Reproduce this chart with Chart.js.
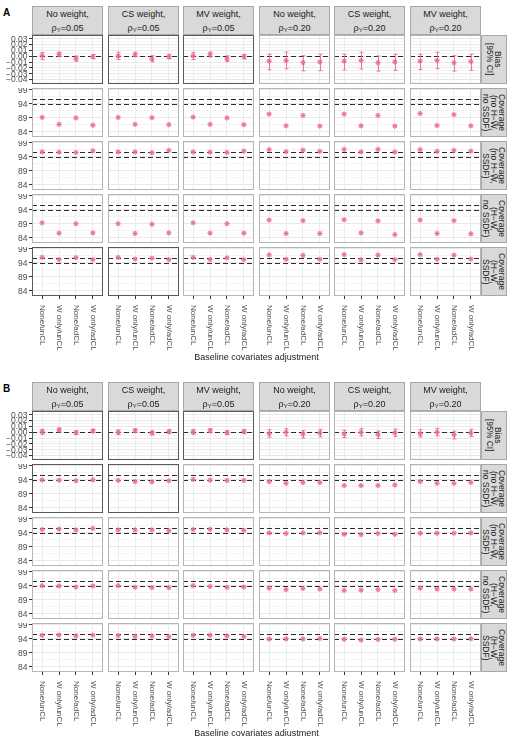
<!DOCTYPE html>
<html>
<head>
<meta charset="utf-8">
<script src="https://cdn.jsdelivr.net/npm/chart.js@4.4.1/dist/chart.umd.min.js"></script>
<style>
body { margin: 0; background: #fff; width: 513px; height: 736px; overflow: hidden; position: relative;
       font-family: "Liberation Sans", Arial, sans-serif; }
canvas { position: absolute; }
.hdr { position: absolute; background: #d9d9d9; border: 1px solid #a8a8a8; box-sizing: border-box;
       text-align: center; font-size: 9px; line-height: 14px; padding-top: 0px; color: #1a1a1a; }
.hdr sub { font-size: 6px; vertical-align: -1px; }
.rstrip { position: absolute; background: #d9d9d9; border: 1px solid #a8a8a8; box-sizing: border-box;
          writing-mode: vertical-rl; display: flex; align-items: center; justify-content: center;
          text-align: center; font-size: 8.5px; line-height: 8px; color: #1a1a1a; }
.tag { position: absolute; left: 3px; font-weight: bold; font-size: 10px; }
.xtitle { position: absolute; left: 32px; width: 449px; text-align: center; font-size: 9px; color: #1a1a1a; }
</style>
</head>
<body>
<script>
'use strict';

// categories and facet labels
const categories = ['None/unCL', 'W only/unCL', 'None/adCL', 'W only/adCL'];
const weightLabels = ['No weight,', 'CS weight,', 'MV weight,', 'No weight,', 'CS weight,', 'MV weight,'];
const rhoLabels = ['0.05', '0.05', '0.05', '0.20', '0.20', '0.20'];
const rowLabels = [
    ['Bias', '[95% CI]'],
    ['Coverage', '(no H\u2212W,', 'no SSDF)'],
    ['Coverage', '(no H\u2212W,', 'SSDF)'],
    ['Coverage', '(H\u2212W,', 'no SSDF)'],
    ['Coverage', '(H\u2212W,', 'SSDF)'],
];
const biasTicks = [-0.04, -0.03, -0.02, -0.01, 0, 0.01, 0.02, 0.03];
const coverageTicks = [84, 89, 94, 99];
const biasRef = [0];
const coverageBounds = [94.05, 95.95];

// ---- Part A ----
const biasEstA = [
    [0.0010, 0.0035, -0.0042, -0.0007],
    [0.0005, 0.0028, -0.0047, -0.0007],
    [0.0008, 0.0033, -0.0045, -0.0007],
    [-0.0084, -0.0072, -0.0108, -0.0097],
    [-0.0084, -0.0072, -0.0110, -0.0097],
    [-0.0084, -0.0072, -0.0110, -0.0090],
];
const biasLoA = [
    [-0.0053, -0.0007, -0.0084, -0.0042],
    [-0.0053, -0.0007, -0.0095, -0.0042],
    [-0.0055, -0.0010, -0.0090, -0.0045],
    [-0.0233, -0.0215, -0.0250, -0.0246],
    [-0.0235, -0.0218, -0.0253, -0.0240],
    [-0.0228, -0.0211, -0.0253, -0.0240],
];
const biasHiA = [
    [0.0065, 0.0070, 0.0005, 0.0030],
    [0.0070, 0.0070, 0.0011, 0.0035],
    [0.0068, 0.0072, 0.0008, 0.0032],
    [0.0036, 0.0072, 0.0010, 0.0036],
    [0.0036, 0.0070, 0.0005, 0.0036],
    [0.0036, 0.0070, 0.0011, 0.0036],
];
const covNoHWNoSSDFA = [
    [89.2, 86.7, 89.0, 86.4],
    [89.2, 86.7, 89.1, 86.6],
    [89.3, 86.7, 89.0, 86.6],
    [90.4, 86.2, 89.9, 86.1],
    [90.4, 86.2, 89.9, 86.1],
    [90.6, 86.3, 90.2, 86.2],
];
const covNoHWSSDFA = [
    [95.8, 95.7, 95.6, 96.2],
    [95.8, 95.8, 95.5, 96.3],
    [95.8, 95.7, 95.6, 96.1],
    [96.6, 95.9, 96.4, 96.0],
    [96.7, 95.8, 96.7, 95.8],
    [96.6, 96.0, 96.3, 96.1],
];
const covHWNoSSDFA = [
    [89.4, 85.7, 89.1, 85.8],
    [89.1, 85.6, 88.9, 85.8],
    [89.4, 85.7, 89.1, 85.7],
    [90.4, 85.6, 90.2, 85.6],
    [90.5, 85.8, 90.1, 85.2],
    [90.4, 85.6, 90.2, 85.5],
];
const covHWSSDFA = [
    [96.0, 95.2, 95.9, 95.2],
    [96.0, 95.4, 95.7, 95.2],
    [96.0, 95.2, 95.8, 95.2],
    [96.9, 95.3, 96.7, 95.3],
    [97.0, 95.1, 96.8, 95.2],
    [97.0, 95.3, 96.8, 95.4],
];

// ---- Part B ----
const biasEstB = [
    [0.0010, 0.0040, -0.0006, 0.0022],
    [0.0000, 0.0028, -0.0010, 0.0011],
    [0.0006, 0.0028, -0.0006, 0.0010],
    [-0.0023, 0.0000, -0.0028, -0.0011],
    [-0.0028, 0.0000, -0.0040, -0.0010],
    [-0.0023, 0.0000, -0.0040, -0.0010],
];
const biasLoB = [
    [-0.0034, 0.0005, -0.0040, -0.0006],
    [-0.0040, -0.0006, -0.0045, -0.0023],
    [-0.0034, -0.0006, -0.0040, -0.0023],
    [-0.0085, -0.0062, -0.0096, -0.0080],
    [-0.0091, -0.0062, -0.0107, -0.0073],
    [-0.0080, -0.0062, -0.0113, -0.0073],
];
const biasHiB = [
    [0.0050, 0.0073, 0.0027, 0.0050],
    [0.0040, 0.0060, 0.0023, 0.0045],
    [0.0045, 0.0060, 0.0027, 0.0045],
    [0.0045, 0.0062, 0.0028, 0.0050],
    [0.0034, 0.0062, 0.0022, 0.0056],
    [0.0045, 0.0068, 0.0022, 0.0050],
];
const covNoHWNoSSDFB = [
    [94.0, 93.9, 93.7, 94.0],
    [93.8, 93.4, 93.3, 93.7],
    [94.2, 93.9, 93.8, 93.8],
    [93.4, 92.8, 93.1, 93.1],
    [92.0, 92.0, 92.0, 92.2],
    [93.4, 92.8, 92.8, 93.1],
];
const covNoHWSSDFB = [
    [95.2, 95.4, 95.1, 95.6],
    [95.1, 95.1, 95.1, 94.8],
    [95.2, 95.3, 95.1, 94.9],
    [94.0, 93.8, 94.0, 94.1],
    [93.5, 93.4, 93.8, 93.5],
    [93.9, 93.9, 93.9, 94.0],
];
const covHWNoSSDFB = [
    [94.1, 94.0, 93.6, 94.0],
    [94.1, 93.5, 93.4, 93.4],
    [94.1, 93.8, 93.5, 93.6],
    [93.2, 92.7, 93.1, 92.9],
    [92.4, 92.5, 92.7, 92.4],
    [93.2, 92.9, 92.9, 92.9],
];
const covHWSSDFB = [
    [95.3, 95.4, 95.1, 95.4],
    [95.2, 94.9, 95.1, 94.8],
    [95.3, 95.3, 95.1, 94.9],
    [94.0, 94.0, 94.0, 94.2],
    [93.9, 93.6, 93.8, 93.9],
    [94.0, 94.0, 94.0, 94.1],
];

// panels drawn with a darker frame: part-row-col
const highlighted = ['A-0-0', 'A-0-1', 'A-0-2', 'A-4-0', 'A-4-1',
                     'B-0-0', 'B-0-1', 'B-0-2', 'B-1-0', 'B-1-1'];

const parts = {
    A: { top: 35, rows: [
        { est: biasEstA, lo: biasLoA, hi: biasHiA },
        { est: covNoHWNoSSDFA }, { est: covNoHWSSDFA }, { est: covHWNoSSDFA }, { est: covHWSSDFA }] },
    B: { top: 411, rows: [
        { est: biasEstB, lo: biasLoB, hi: biasHiB },
        { est: covNoHWNoSSDFB }, { est: covNoHWSSDFB }, { est: covHWNoSSDFB }, { est: covHWSSDFB }] },
};

// layout
const COL_LEFT = [32, 108, 183, 259, 334, 410];
const PANEL_W = 71;
const PANEL_H = 49;
const ROW_STEP = 53;
const X_LABEL_H = 60;
const FONT = '"Liberation Sans", Arial, sans-serif';
const PINK = 'rgba(238, 118, 168, 0.6)';
const PINK_DARK = 'rgba(230, 96, 156, 0.85)';

const errbarsPlugin = {
    id: 'errbars',
    afterDatasetsDraw(chart, args, opts) {
        if (!opts.lo) return;
        const ctx = chart.ctx, xs = chart.scales.x, ys = chart.scales.y;
        ctx.save();
        ctx.strokeStyle = PINK_DARK;
        ctx.lineWidth = 1;
        opts.lo.forEach((lo, i) => {
            const x = Math.round(xs.getPixelForValue(i + 1)) + 0.5;
            const y1 = ys.getPixelForValue(lo), y2 = ys.getPixelForValue(opts.hi[i]);
            ctx.beginPath();
            ctx.moveTo(x, y1); ctx.lineTo(x, y2);
            ctx.moveTo(x - 2, y1); ctx.lineTo(x + 2, y1);
            ctx.moveTo(x - 2, y2); ctx.lineTo(x + 2, y2);
            ctx.stroke();
        });
        ctx.restore();
    }
};

const refsPlugin = {
    id: 'refs',
    beforeDatasetsDraw(chart, args, opts) {
        const ctx = chart.ctx, a = chart.chartArea, ys = chart.scales.y;
        ctx.save();
        ctx.strokeStyle = '#2b2b2b';
        ctx.lineWidth = 1;
        ctx.setLineDash([5, 3]);
        for (const v of opts.values) {
            const y = Math.round(ys.getPixelForValue(v)) + 0.5;
            ctx.beginPath();
            ctx.moveTo(a.left, y); ctx.lineTo(a.right, y);
            ctx.stroke();
        }
        ctx.restore();
    }
};

const framePlugin = {
    id: 'frame',
    afterDraw(chart, args, opts) {
        const ctx = chart.ctx, a = chart.chartArea;
        ctx.save();
        ctx.strokeStyle = opts.color;
        ctx.lineWidth = 1;
        ctx.strokeRect(a.left + 0.5, a.top + 0.5, a.right - a.left - 1, a.bottom - a.top - 1);
        ctx.restore();
    }
};

// tick labels drawn by hand so they never change the plot area
const axisLabelsPlugin = {
    id: 'axislabels',
    afterDraw(chart, args, opts) {
        const ctx = chart.ctx, xs = chart.scales.x, ys = chart.scales.y, a = chart.chartArea;
        ctx.save();
        ctx.fillStyle = '#4d4d4d';
        if (opts.y) {
            ctx.font = '8.5px ' + FONT;
            ctx.textAlign = 'right';
            ctx.textBaseline = 'middle';
            opts.y.values.forEach((v, i) => ctx.fillText(opts.y.labels[i], a.left - 4.5, ys.getPixelForValue(v) + 0.5));
        }
        if (opts.x) {
            ctx.font = '8px ' + FONT;
            ctx.textAlign = 'left';
            ctx.textBaseline = 'middle';
            categories.forEach((lab, i) => {
                ctx.save();
                ctx.translate(xs.getPixelForValue(i + 1) + 0.5, a.bottom + 9);
                ctx.rotate(Math.PI / 2);
                ctx.fillText(lab, 0, 0);
                ctx.restore();
            });
        }
        ctx.restore();
    }
};

function fmtBias(v) {
    if (Math.abs(v) < 1e-9) return '0.00';
    return v.toFixed(2).replace('-', '\u2212');
}

function makePanel(partKey, r, c) {
    const part = parts[partKey];
    const row = part.rows[r];
    const isBias = r === 0;
    const top = part.top + r * ROW_STEP;
    const left = c === 0 ? 0 : COL_LEFT[c];
    const w = c === 0 ? COL_LEFT[0] + PANEL_W : PANEL_W;
    const h = PANEL_H + (r === 4 ? X_LABEL_H : 0);

    const cv = document.createElement('canvas');
    cv.width = w; cv.height = h;
    cv.style.left = left + 'px';
    cv.style.top = top + 'px';
    document.body.appendChild(cv);

    const yMin = isBias ? -0.0475 : 82.2;
    const yMax = isBias ? 0.0365 : 99.7;
    // major ticks plus the minor ones halfway between
    const major = isBias ? biasTicks : coverageTicks;
    const step = major[1] - major[0];
    const allTicks = [];
    major.forEach(v => {
        allTicks.push({ value: v, minor: false });
        allTicks.push({ value: v + step / 2, minor: true });
        allTicks.push({ value: v - step / 2, minor: true });
    });
    const ticks = allTicks.filter((t, i) => t.value >= yMin && t.value <= yMax &&
        allTicks.findIndex(u => Math.abs(u.value - t.value) < 1e-9) === i);
    const isMinor = (ctx) => {
        const t = ctx.tick && ticks.find(t => Math.abs(t.value - ctx.tick.value) < 1e-9);
        return t ? t.minor : false;
    };

    const pts = row.est[c].map((v, i) => ({ x: i + 1, y: v }));

    new Chart(cv.getContext('2d'), {
        type: 'scatter',
        data: {
            datasets: [
                { data: pts, pointStyle: 'circle', pointRadius: 2.4, backgroundColor: PINK, borderWidth: 0 },
                { data: pts, pointStyle: 'star', pointRadius: 2.6, borderColor: PINK_DARK, borderWidth: 1 },
            ]
        },
        options: {
            responsive: false,
            animation: false,
            events: [],
            layout: { padding: 0, autoPadding: false },
            plugins: {
                legend: { display: false },
                tooltip: { enabled: false },
                errbars: { lo: row.lo ? row.lo[c] : null, hi: row.hi ? row.hi[c] : null },
                refs: { values: isBias ? biasRef : coverageBounds },
                frame: { color: highlighted.includes(partKey + '-' + r + '-' + c) ? '#5a5a5a' : '#b5b5b5' },
                axislabels: {
                    x: r === 4,
                    y: c === 0 ? { values: major, labels: major.map(v => isBias ? fmtBias(v) : String(v)) } : null,
                },
            },
            scales: {
                x: {
                    type: 'linear', min: 0.4, max: 4.6,
                    afterBuildTicks: s => { s.ticks = [1, 2, 3, 4].map(v => ({ value: v })); },
                    afterFit: s => { s.height = r === 4 ? X_LABEL_H : 0; },
                    ticks: { display: false },
                    grid: { color: '#ebebeb', drawTicks: r === 4, tickLength: 3, tickColor: '#333' },
                    border: { display: false },
                },
                y: {
                    min: yMin, max: yMax,
                    afterBuildTicks: s => { s.ticks = ticks.map(t => ({ value: t.value })); },
                    afterFit: s => { s.width = c === 0 ? COL_LEFT[0] : 0; },
                    ticks: { display: false },
                    grid: {
                        color: ctx => isMinor(ctx) ? '#f4f4f4' : '#e9e9e9',
                        drawTicks: c === 0,
                        tickLength: 3,
                        tickColor: ctx => isMinor(ctx) ? 'rgba(0,0,0,0)' : '#333',
                    },
                    border: { display: false },
                }
            }
        },
        plugins: [refsPlugin, errbarsPlugin, framePlugin, axisLabelsPlugin]
    });
}

function addDiv(cls, html, left, top, width, height) {
    const d = document.createElement('div');
    d.className = cls;
    d.innerHTML = html;
    d.style.left = left + 'px';
    d.style.top = top + 'px';
    if (width != null) d.style.width = width + 'px';
    if (height != null) d.style.height = height + 'px';
    document.body.appendChild(d);
    return d;
}

for (const key of ['A', 'B']) {
    const part = parts[key];
    addDiv('tag', key, 3, part.top - 28);
    for (let c = 0; c < 6; c++) {
        addDiv('hdr', weightLabels[c] + '<br>\u03C1<sub>Y</sub>=' + rhoLabels[c], COL_LEFT[c], part.top - 29, PANEL_W, 29);
    }
    for (let r = 0; r < 5; r++) {
        addDiv('rstrip', '<span>' + rowLabels[r].join('<br>') + '</span>', 481, part.top + r * ROW_STEP, 26, PANEL_H);
        for (let c = 0; c < 6; c++) makePanel(key, r, c);
    }
    addDiv('xtitle', 'Baseline covariates adjustment', 32, part.top + 4 * ROW_STEP + PANEL_H + 56);
}
</script>
</body>
</html>
